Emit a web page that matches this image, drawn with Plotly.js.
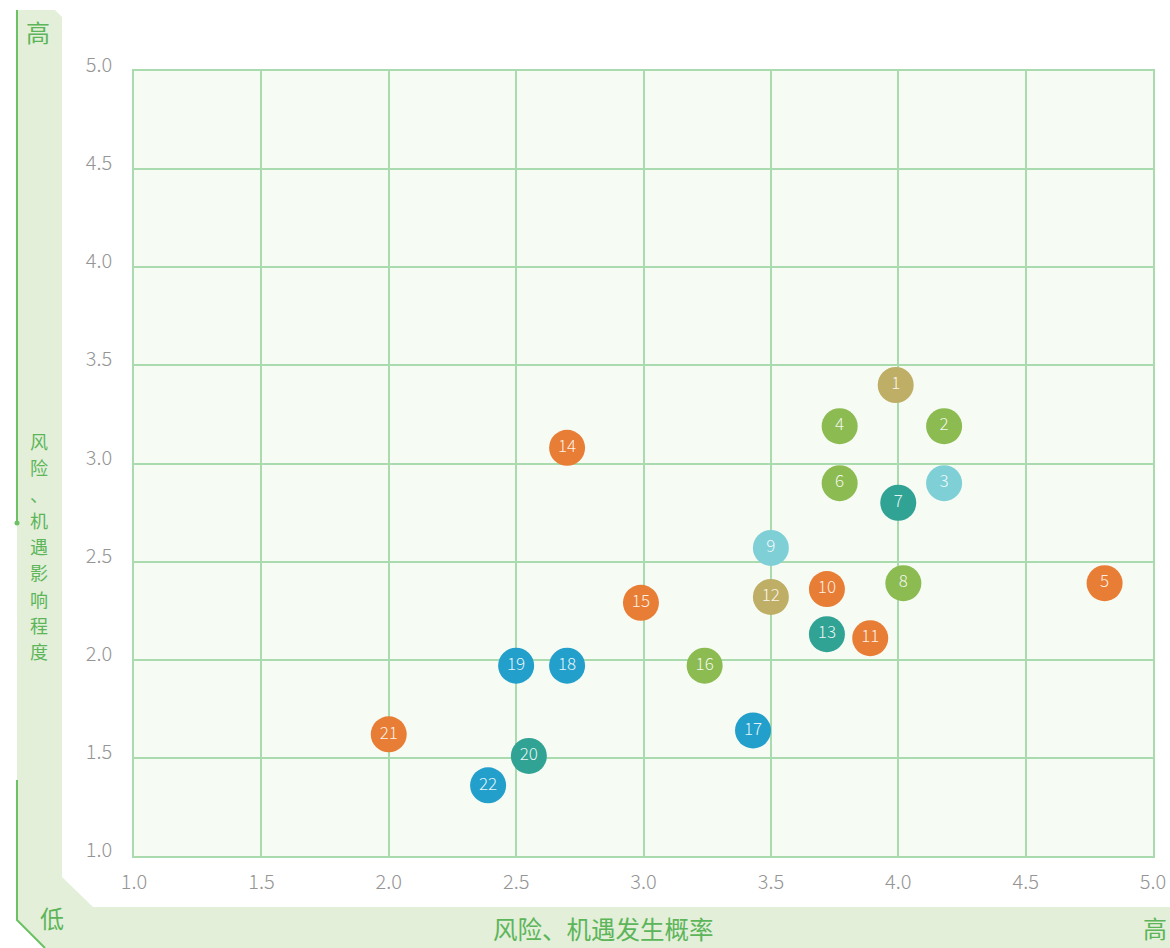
<!DOCTYPE html>
<html>
<head>
<meta charset="utf-8">
<script src="https://cdn.plot.ly/plotly-3.0.1.min.js"></script>
<style>
html,body{margin:0;padding:0;background:#fff;}
#chart{width:1170px;height:948px;}
</style>
</head>
<body>
<div id="chart"></div>
<script>
// ---- data ----
const ids = ["1","2","3","4","5","6","7","8","9","10","11","12","13","14","15","16","17","18","19","20","21","22"];
const probability = [3.99, 4.18, 4.18, 3.77, 4.81, 3.77, 4.00, 4.02, 3.50, 3.72, 3.89, 3.50, 3.72, 2.70, 2.99, 3.24, 3.43, 2.70, 2.50, 2.55, 2.00, 2.39];
const impact      = [3.40, 3.19, 2.90, 3.19, 2.39, 2.90, 2.80, 2.39, 2.57, 2.36, 2.11, 2.32, 2.13, 3.08, 2.29, 1.97, 1.64, 1.97, 1.97, 1.51, 1.62, 1.36];
const group       = ["olive","green","cyan","green","orange","green","teal","green","cyan","orange","orange","olive","teal","orange","orange","green","blue","blue","blue","teal","orange","blue"];
const palette = {olive:"#BFAE65", green:"#8BBB51", cyan:"#7FCFD7", orange:"#E87E35", teal:"#30A394", blue:"#229FCB"};
const tickVals = [1.0,1.5,2.0,2.5,3.0,3.5,4.0,4.5,5.0];
const tickText = ["1.0","1.5","2.0","2.5","3.0","3.5","4.0","4.5","5.0"];
const xTitle = "风险、机遇发生概率";
const yTitle = "风险、机遇影响程度";
const highLabel = "高";
const lowLabel = "低";

// ---- layout helpers (pixel -> paper) ----
const W = 1170, H = 948;
const L = 134, R = 1153, T = 71, B = 856;
const px = x => (x - L) / (R - L);
const py = y => (B - y) / (B - T);
function path(pts){ return "M " + pts.map(p => px(p[0]) + "," + py(p[1])).join(" L ") + " Z"; }
function line(pts){ return "M " + pts.map(p => px(p[0]) + "," + py(p[1])).join(" L "); }

const bandColor = "#E3EFD9";
const lineColor = "#6CC164";
const textGreen = "#5DB55A";
const cjk = "Noto Sans CJK SC, sans-serif";

const trace = {
  type: "scatter",
  mode: "markers+text",
  x: probability,
  y: impact,
  text: ids,
  textposition: "middle center",
  textfont: {family: cjk, size: 17, color: "rgba(255,255,255,0.9)", weight: 300},
  marker: {size: 36, color: group.map(g => palette[g]), line: {width: 0}, opacity: 1},
  hoverinfo: "x+y+text",
  cliponaxis: false
};

const axisCommon = {
  range: [1, 5],
  tickvals: tickVals,
  ticktext: tickText,
  showgrid: true,
  gridcolor: "#A9DBAE",
  gridwidth: 1.5,
  zeroline: false,
  showline: true,
  linecolor: "#A9DBAE",
  linewidth: 1.5,
  mirror: true,
  ticks: "",
  tickfont: {family: cjk, size: 20, color: "#959595", weight: 300},
  fixedrange: true
};

// vertical title: stacked characters in one text; line pitch from base size
const yTitleStacked = yTitle.split("").map(c => '<span style="font-size:18px">' + c + '</span>').join("<br>");

const layout = {
  width: W, height: H,
  margin: {l: L, r: W - R, t: T, b: H - B},
  paper_bgcolor: "#FFFFFF",
  plot_bgcolor: "#F6FBF4",
  showlegend: false,
  xaxis: Object.assign({}, axisCommon, {ticklabelstandoff: 7}),
  yaxis: Object.assign({}, axisCommon, {ticklabelstandoff: 16, ticklabelshift: -6}),
  shapes: [
    {type: "path", xref: "paper", yref: "paper", layer: "below",
     path: path([[17,10],[55,10],[62,17],[62,877],[93,907],[1170,907],[1170,948],[43,948],[17,920]]),
     fillcolor: bandColor, line: {width: 0}},
    {type: "path", xref: "paper", yref: "paper",
     path: line([[17,10],[17,523]]), line: {color: lineColor, width: 2}},
    {type: "path", xref: "paper", yref: "paper",
     path: line([[17,780],[17,920],[45,948]]), line: {color: lineColor, width: 2}},
    {type: "circle", xref: "paper", yref: "paper",
     x0: px(14.5), x1: px(19.5), y0: py(525.5), y1: py(520.5),
     fillcolor: lineColor, line: {width: 0}}
  ],
  annotations: [
    {xref: "paper", yref: "paper", x: px(38), y: py(31), text: highLabel, showarrow: false,
     font: {family: cjk, size: 24, color: textGreen}, xanchor: "center", yanchor: "middle"},
    {xref: "paper", yref: "paper", x: px(52), y: py(917), text: lowLabel, showarrow: false,
     font: {family: cjk, size: 24, color: textGreen}, xanchor: "center", yanchor: "middle"},
    {xref: "paper", yref: "paper", x: px(1155), y: py(927), text: highLabel, showarrow: false,
     font: {family: cjk, size: 24, color: textGreen}, xanchor: "center", yanchor: "middle"},
    {xref: "paper", yref: "paper", x: px(603), y: py(928), text: xTitle, showarrow: false,
     font: {family: cjk, size: 24.5, color: textGreen}, xanchor: "center", yanchor: "middle"},
    {xref: "paper", yref: "paper", x: px(39), y: py(546), text: yTitleStacked, showarrow: false,
     font: {family: cjk, size: 20.2, color: textGreen}, xanchor: "center", yanchor: "middle"}
  ]
};

Plotly.newPlot("chart", [trace], layout, {displayModeBar: false});
</script>
</body>
</html>
